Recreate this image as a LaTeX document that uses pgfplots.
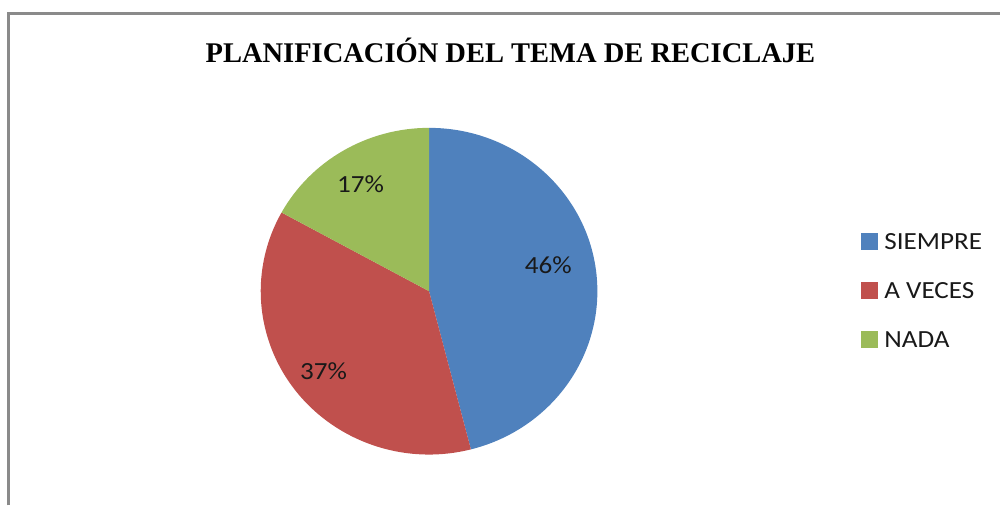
\documentclass[border=0pt]{standalone}
\usepackage{pgfplots}
\usepackage{pgfplotstable}
\pgfplotsset{compat=1.18}
\usepackage{fontspec}
\setmainfont{Carlito}
\newfontfamily\titlefont{Liberation Serif}
\definecolor{pie0}{HTML}{4F81BD}
\definecolor{pie1}{HTML}{C0504D}
\definecolor{pie2}{HTML}{9BBB59}
\definecolor{framegray}{HTML}{8A8A8A}
\pgfplotstableread{
label value lx ly
SIEMPRE 46 549 241
{A VECES} 37 324 134
NADA 17 361 322
}\piedata
\begin{document}
\begin{tikzpicture}
\begin{axis}[x=0.75pt, y=0.75pt, xmin=0, xmax=1001, ymin=0, ymax=506,
  hide axis, clip=false]
\path (axis cs:0,0) rectangle (axis cs:1001,506);
% frame
\draw[framegray, line width=1.6pt] (axis cs:8.5,0) -- (axis cs:8.5,492.5) -- (axis cs:1001,492.5);
% title
\node[font=\titlefont\bfseries\fontsize{21.4}{24}\selectfont] at (axis cs:511,456) {PLANIFICACIÓN DEL TEMA DE RECICLAJE};
\def\cx{429.5}\def\cy{214.5}\def\rx{168.5}\def\ry{163.5}
\pgfmathsetmacro\startang{90}
\pgfplotsforeachungrouped \i in {0,1,2} {
  \pgfplotstablegetelem{\i}{value}\of\piedata
  \pgfmathsetmacro\endang{\startang - 3.6*\pgfplotsretval}
  \pgfmathsetmacro\sx{\cx+\rx*cos(\startang)}
  \pgfmathsetmacro\sy{\cy+\ry*sin(\startang)}
  \pgfmathsetmacro\rxpt{0.75*\rx}
  \pgfmathsetmacro\rypt{0.75*\ry}
  \edef\temp{\noexpand\fill[pie\i] (axis cs:\cx,\cy) -- (axis cs:\sx,\sy) arc[start angle=\startang, end angle=\endang, x radius=\rxpt pt, y radius=\rypt pt] -- cycle;}
  \temp
  \pgfplotstablegetelem{\i}{lx}\of\piedata \let\lx\pgfplotsretval
  \pgfplotstablegetelem{\i}{ly}\of\piedata \let\ly\pgfplotsretval
  \pgfplotstablegetelem{\i}{value}\of\piedata \let\lv\pgfplotsretval
  \edef\temp{\noexpand\node[xscale=1.1, font=\noexpand\fontsize{18.5}{22}\noexpand\selectfont, text=black!90] at (axis cs:\lx,\ly) {\lv\noexpand\%};}
  \temp
  \pgfplotstablegetelem{\i}{label}\of\piedata \let\ll\pgfplotsretval
  \pgfmathsetmacro\legy{264-49*\i}
  \edef\temp{\noexpand\fill[pie\i] (axis cs:862,\legy-8.5) rectangle (axis cs:879,\legy+8.5);
    \noexpand\node[anchor=west, inner sep=0pt, xscale=1.1, font=\noexpand\fontsize{18.5}{22}\noexpand\selectfont, text=black!90] at (axis cs:885,\legy) {\ll};}
  \temp
  \global\let\startang\endang
}
\end{axis}
\end{tikzpicture}
\end{document}
